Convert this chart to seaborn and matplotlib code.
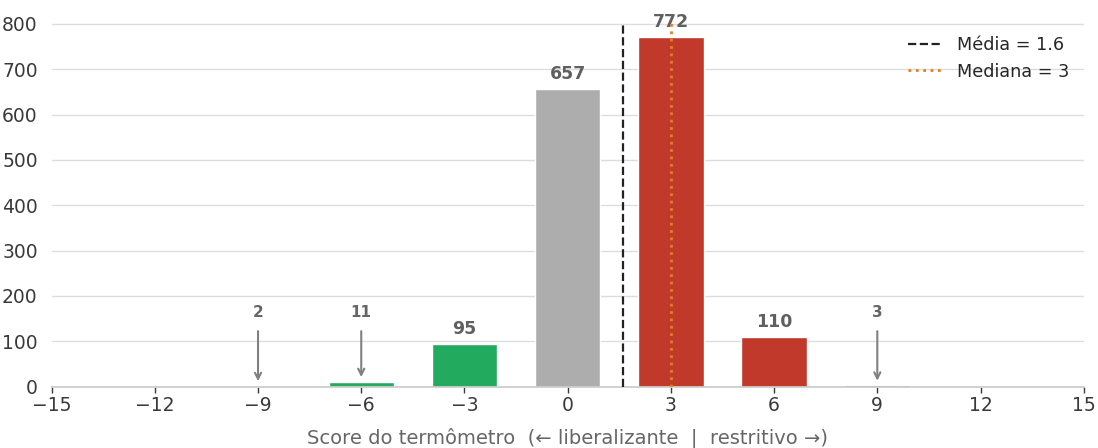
import numpy as np
import pandas as pd
import matplotlib
matplotlib.use("Agg")
import matplotlib.pyplot as plt
import seaborn as sns

# score distribution
scores = [-9, -6, -3, 0, 3, 6, 9]
counts = [2, 11, 95, 657, 772, 110, 3]
media = 1.6
mediana = 3

def cor(s):
    if s < 0:
        return "#22ab5e"
    if s > 0:
        return "#c0392b"
    return "#adadad"

df = pd.DataFrame({"score": scores, "n": counts})

sns.set_theme(style="whitegrid")
plt.rcParams["font.family"] = ["DejaVu Sans"]

fig, ax = plt.subplots(figsize=(10.98, 4.48), dpi=100)

ax.bar(df["score"], df["n"], width=1.9, color=[cor(s) for s in df["score"]],
       edgecolor="white", linewidth=1, zorder=2)

for s, n in zip(df["score"], df["n"]):
    if n < 20:
        ax.annotate(str(n), xy=(s, n + 10), xytext=(s, 148),
                    ha="center", va="bottom", fontsize=11, fontweight="bold", color="#666666",
                    arrowprops=dict(arrowstyle="->", color="#808080", lw=1.5, shrinkA=6, shrinkB=0))
    else:
        ax.text(s, n + 12, str(n), ha="center", va="bottom",
                fontsize=12.5, fontweight="bold", color="#606060")

ax.axvline(media, color="#222222", linestyle="--", linewidth=1.6, label=f"Média = {media}", zorder=3)
ax.axvline(mediana, color="#e67e22", linestyle=":", linewidth=2, label=f"Mediana = {mediana}", zorder=3)

ax.set_xlim(-15, 15)
ax.set_ylim(0, 805)
ax.set_xticks(np.arange(-15, 16, 3))
ax.set_yticks(np.arange(0, 801, 100))
ax.tick_params(axis="x", labelsize=13.5, colors="#3a3a3a", bottom=True, length=4, width=1, pad=3)
ax.tick_params(axis="y", labelsize=13.5, colors="#3a3a3a", left=False, pad=4)
ax.grid(axis="x", visible=False)
ax.grid(axis="y", color="#dddddd", linewidth=1)
ax.set_axisbelow(True)

for side in ["left", "right", "top"]:
    ax.spines[side].set_visible(False)
ax.spines["bottom"].set_color("#cccccc")

ax.set_xlabel("Score do termômetro  (← liberalizante  |  restritivo →)", fontsize=14,
              color="#666666", labelpad=9)
ax.set_ylabel("")

ax.legend(loc="upper right", frameon=False, fontsize=12.7, borderaxespad=0.4)

fig.subplots_adjust(left=0.047, right=0.987, top=0.9516, bottom=0.137)
fig.savefig("out.png", dpi=100)
